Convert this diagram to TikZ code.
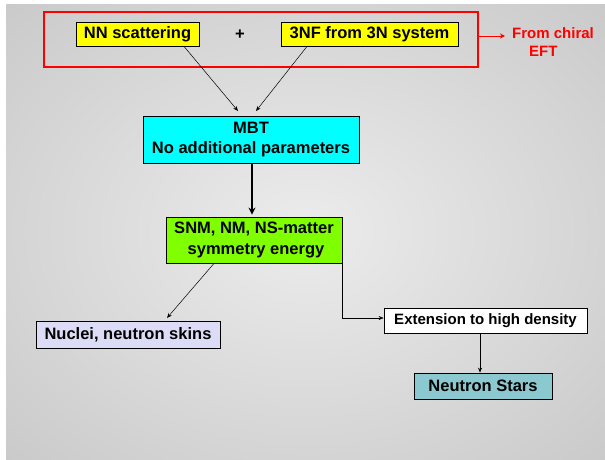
\documentclass[tikz,border=0pt]{standalone}
\usepackage{fontspec}
\setmainfont{Liberation Sans}
\usetikzlibrary{arrows.meta}
\definecolor{bgin}{RGB}{236,236,236}
\definecolor{bgmid}{RGB}{188,188,188}
\definecolor{bgout}{RGB}{145,145,145}
\definecolor{nnyellow}{RGB}{255,255,0}
\definecolor{mbtcyan}{RGB}{0,255,255}
\definecolor{snmgreen}{RGB}{128,255,0}
\definecolor{nuclav}{RGB}{220,220,246}
\definecolor{nsteal}{RGB}{140,200,208}
\definecolor{eftred}{RGB}{255,0,0}
\pgfdeclareradialshading{bgshade}{\pgfpoint{0bp}{0bp}}{color(0bp)=(bgin); color(50bp)=(bgmid); color(71bp)=(bgout)}
\tikzset{
  box/.style={draw=black, line width=0.8pt, inner sep=0pt, font=\fontsize{16.5}{20.5}\selectfont\bfseries, align=center, text=black},
  thin arrow/.style={draw=black, line width=0.5pt, -{Stealth[length=5pt,width=4pt]}},
  thick arrow/.style={draw=black, line width=2.6pt, -{Stealth[length=7pt,width=7pt]}},
}
\begin{document}
\begin{tikzpicture}[x=1pt,y=-1pt]
\useasboundingbox (0,0) rectangle (605,459);
\shade[shading=bgshade] (6,4) rectangle (605,459);
% red frame
\node[draw=eftred, line width=2pt, minimum width=434pt, minimum height=55pt, inner sep=0pt] (red) at (261,39.5) {};
\node[box, fill=nnyellow, minimum width=123pt, minimum height=24pt] (nn) at (137.5,34) {NN scattering};
\node[font=\fontsize{16.5}{19}\selectfont\bfseries] (plus) at (240,35) {+};
\node[box, fill=nnyellow, minimum width=177pt, minimum height=24pt] (tnf) at (369.5,34) {3NF from 3N system};
\node[font=\fontsize{15}{18}\selectfont\bfseries, text=eftred, align=left, anchor=north west, inner sep=0pt] (chiral) at (512,27) {From chiral\\\hspace{17pt}EFT};
\coordinate (ca) at (505,36);
\draw[draw=eftred, line width=1pt, -{Stealth[length=5pt,width=5pt]}] (red.east |- ca) -- (ca);
% MBT
\node[box, fill=mbtcyan, minimum width=216pt, minimum height=47pt] (mbt) at (251,139.5) {MBT\\No additional parameters};
\node[box, fill=snmgreen, minimum width=176pt, minimum height=46pt] (snm) at (254,240) {SNM, NM, NS-matter\\\hspace{4pt}symmetry energy};
\node[box, fill=nuclav, minimum width=184pt, minimum height=27pt] (nuc) at (128,334.5) {Nuclei, neutron skins};
\node[box, fill=white, minimum width=203pt, minimum height=25pt, font=\fontsize{15}{18}\selectfont\bfseries] (ext) at (485.5,320.5) {Extension to high density};
\node[box, fill=nsteal, minimum width=138pt, minimum height=26pt] (ns) at (483,386) {Neutron Stars};
% connectors
\coordinate (a1) at (238,111);
\coordinate (a2) at (256,111);
\draw[thin arrow] ([xshift=46.5pt]nn.south) -- (a1);
\draw[thin arrow] ([xshift=-62.5pt]tnf.south) -- (a2);
\draw[thick arrow] ([xshift=1pt]mbt.south) -- ([xshift=-2pt,yshift=2pt]snm.north);
\coordinate (a3) at (167,318);
\draw[thin arrow] ([xshift=-40pt]snm.south) -- (a3);
\draw[thin arrow] (snm.south east) |- ([yshift=2.5pt]ext.west);
\draw[thin arrow] ([xshift=-5.5pt]ext.south) -- ([xshift=-3pt]ns.north);
\end{tikzpicture}
\end{document}
